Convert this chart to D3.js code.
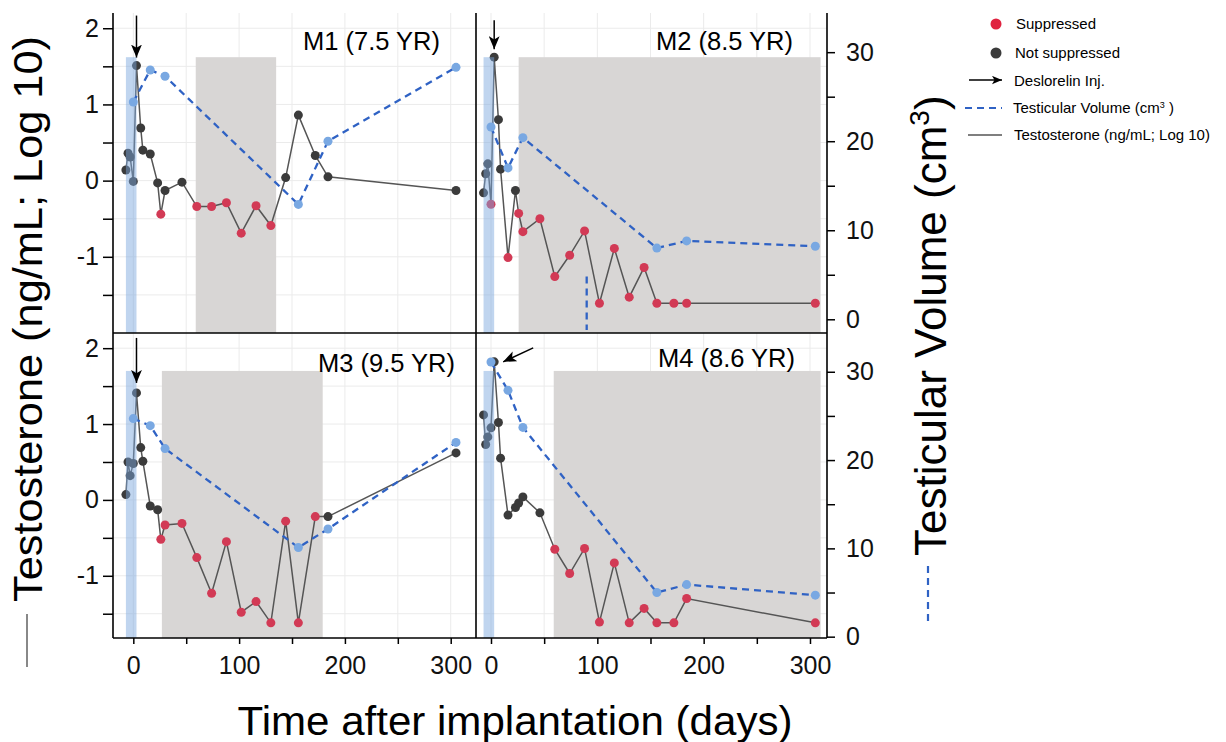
<!DOCTYPE html>
<html>
  <head>
    <title>Testosterone and Testicular Volume</title>
    <script src="https://d3js.org/d3.v7.min.js"></script>
    <style>
      body { margin: 0; background: #fff; }
      text { font-family: "Liberation Sans", Arial, Helvetica, sans-serif; }
    </style>
  </head>
  <body>
    <div id="chart"></div>
    <script>
// Sampling days
const days = [-7, -5, -3, 0, 3, 7, 9, 16, 23, 26, 30, 46, 60, 74, 88, 102, 116, 130, 144, 156, 172, 184, 305];
const volumeDays = [0, 16, 30, 156, 184, 305];

// Testosterone (ng/mL; log10), 1 = suppressed
const m1Testosterone = [0.14, 0.36, 0.31, -0.01, 1.51, 0.69, 0.40, 0.35, -0.03, -0.44, -0.13, -0.02, -0.34, -0.34, -0.29, -0.69, -0.33, -0.59, 0.04, 0.86, 0.33, 0.05, -0.13];
const m1Suppressed = [0, 0, 0, 0, 0, 0, 0, 0, 0, 1, 0, 0, 1, 1, 1, 1, 1, 1, 0, 0, 0, 0, 0];
const m2Testosterone = [-0.16, 0.09, 0.22, -0.31, 1.62, 0.80, 0.15, -1.01, -0.13, -0.43, -0.67, -0.50, -1.26, -0.98, -0.66, -1.61, -0.89, -1.53, -1.14, -1.61, -1.61, -1.61, -1.61];
const m2Suppressed = [0, 0, 0, 1, 0, 0, 0, 1, 0, 1, 1, 1, 1, 1, 1, 1, 1, 1, 1, 1, 1, 1, 1];
const m3Testosterone = [0.07, 0.50, 0.32, 0.48, 1.41, 0.69, 0.51, -0.08, -0.13, -0.52, -0.33, -0.31, -0.76, -1.23, -0.55, -1.48, -1.34, -1.62, -0.28, -1.62, -0.22, -0.22, 0.62];
const m3Suppressed = [0, 0, 0, 0, 0, 0, 0, 0, 0, 1, 1, 1, 1, 1, 1, 1, 1, 1, 1, 1, 1, 0, 0];
const m4Testosterone = [1.12, 0.73, 0.83, 0.95, 1.82, 1.02, 0.55, -0.20, -0.10, -0.04, 0.04, -0.17, -0.65, -0.97, -0.64, -1.61, -0.83, -1.62, -1.43, -1.62, -1.62, -1.30, -1.62];
const m4Suppressed = [0, 0, 0, 0, 0, 0, 0, 0, 0, 0, 0, 0, 1, 1, 1, 1, 1, 1, 1, 1, 1, 1, 1];

// Testicular volume (cm3)
const m1Volume = [24.4, 28.0, 27.3, 12.9, 20.0, 28.3];
const m2Volume = [21.6, 17.0, 20.4, 8.0, 8.8, 8.2];
const m3Volume = [24.7, 23.9, 21.3, 10.1, 12.2, 22.0];
const m4Volume = [31.1, 27.9, 23.7, 5.0, 5.9, 4.7];

// stray dashed volume segment in M2
const m2VolumeMark = { day: 90, from: 4.8, to: -1.2 };

const panelNames = ["M1 (7.5 YR)", "M2 (8.5 YR)", "M3 (9.5 YR)", "M4 (8.6 YR)"];
const implantWindow = [-7, 3];
const suppressionWindows = [[59, 135], [26, 310], [27, 179], [59, 310]];
const shadeTops = [1.62, 1.62, 1.7, 1.7];

// Ticks
const testosteroneTicks = [-1.5, -1, -0.5, 0, 0.5, 1, 1.5, 2];
const volumeTicks = [0, 5, 10, 15, 20, 25, 30];
const dayTicks = [0, 50, 100, 150, 200, 250, 300];

// Layout
const width = 1226;
const height = 742;
const cols = [
  { x0: 113, x1: 476, domain: [-19.2, 323.9] },
  { x0: 476, x1: 827, domain: [-14.1, 316] }
];
const rows = [
  { y0: 13, y1: 333, t: [-2.0, 2.2], v: [-1.54, 34.4] },
  { y0: 333, y1: 638, t: [-1.82, 2.2], v: [-0.15, 34.39] }
];
// panel label right end / baseline
const labelPos = [[440, 50], [793, 50], [455, 372], [795, 367]];

const red = "#d23a55";
const dark = "#3b3b3b";
const volBlue = "#2f62c4";
const volPoint = "#79a8e2";

function createChart() {
  const svg = d3.select("#chart").append("svg")
    .attr("width", width)
    .attr("height", height)
    .attr("viewBox", [0, 0, width, height]);

  const defs = svg.append("defs");
  defs.append("marker")
    .attr("id", "head")
    .attr("viewBox", "0 0 12 10")
    .attr("refX", 12).attr("refY", 5)
    .attr("markerUnits", "userSpaceOnUse")
    .attr("markerWidth", 13).attr("markerHeight", 11)
    .attr("orient", "auto")
    .append("path").attr("d", "M0,0L12,5L0,10L3,5Z").attr("fill", "#000");
  defs.append("marker")
    .attr("id", "headSmall")
    .attr("viewBox", "0 0 12 10")
    .attr("refX", 12).attr("refY", 5)
    .attr("markerUnits", "userSpaceOnUse")
    .attr("markerWidth", 10).attr("markerHeight", 9)
    .attr("orient", "auto")
    .append("path").attr("d", "M0,0L12,5L0,10L3,5Z").attr("fill", "#000");

  const panels = [
    { t: m1Testosterone, s: m1Suppressed, v: m1Volume },
    { t: m2Testosterone, s: m2Suppressed, v: m2Volume },
    { t: m3Testosterone, s: m3Suppressed, v: m3Volume },
    { t: m4Testosterone, s: m4Suppressed, v: m4Volume }
  ];
  // arrow tail / tip offsets from the peak point (pixels)
  const arrowGeom = [
    { tail: [0, -50], tip: [0, -8] },
    { tail: [0, -37], tip: [0, -8] },
    { tail: [0, -55], tip: [0, -10] },
    { tail: [39, -14], tip: [9, 0] }
  ];

  panels.forEach((p, i) => {
    const col = cols[i % 2];
    const row = rows[Math.floor(i / 2)];
    const x = d3.scaleLinear().domain(col.domain).range([col.x0, col.x1]);
    const y = d3.scaleLinear().domain(row.t).range([row.y1, row.y0]);
    const yv = d3.scaleLinear().domain(row.v).range([row.y1, row.y0]);
    const g = svg.append("g");

    // grid
    g.selectAll(".vgrid").data(dayTicks).join("line")
      .attr("x1", d => x(d)).attr("x2", d => x(d))
      .attr("y1", row.y0).attr("y2", row.y1)
      .attr("stroke", "#ebebeb").attr("stroke-width", 1);
    g.selectAll(".hgrid").data(testosteroneTicks.filter(d => d >= row.t[0])).join("line")
      .attr("x1", col.x0).attr("x2", col.x1)
      .attr("y1", d => y(d)).attr("y2", d => y(d))
      .attr("stroke", "#ebebeb").attr("stroke-width", 1);

    // suppression window
    const sw = suppressionWindows[i];
    g.append("rect")
      .attr("x", x(sw[0])).attr("width", x(sw[1]) - x(sw[0]))
      .attr("y", y(shadeTops[i])).attr("height", row.y1 - y(shadeTops[i]))
      .attr("fill", "#d8d6d5");

    // testosterone
    const tData = days.map((d, k) => ({ day: d, val: p.t[k], sup: p.s[k] }));
    g.append("path").datum(tData)
      .attr("fill", "none").attr("stroke", "#555").attr("stroke-width", 1.5)
      .attr("d", d3.line().x(d => x(d.day)).y(d => y(d.val)));
    g.selectAll(".tp").data(tData).join("circle")
      .attr("cx", d => x(d.day)).attr("cy", d => y(d.val)).attr("r", 4.5)
      .attr("fill", d => d.sup ? red : dark);

    // implant window (semi-transparent over early points)
    g.append("rect")
      .attr("x", x(implantWindow[0])).attr("width", x(implantWindow[1]) - x(implantWindow[0]))
      .attr("y", y(shadeTops[i])).attr("height", row.y1 - y(shadeTops[i]))
      .attr("fill", "#7ba7de").attr("opacity", 0.48);

    // volume
    const vData = volumeDays.map((d, k) => ({ day: d, val: p.v[k] }));
    g.append("path").datum(vData)
      .attr("fill", "none").attr("stroke", volBlue).attr("stroke-width", 2.3)
      .attr("stroke-dasharray", "7,5")
      .attr("d", d3.line().x(d => x(d.day)).y(d => yv(d.val)));
    if (i === 1) {
      g.append("line")
        .attr("x1", x(m2VolumeMark.day)).attr("x2", x(m2VolumeMark.day))
        .attr("y1", yv(m2VolumeMark.from)).attr("y2", yv(m2VolumeMark.to))
        .attr("stroke", volBlue).attr("stroke-width", 2.3).attr("stroke-dasharray", "7,5");
    }
    g.selectAll(".vp").data(vData).join("circle")
      .attr("cx", d => x(d.day)).attr("cy", d => yv(d.val)).attr("r", 4.5)
      .attr("fill", volPoint);

    // injection arrow
    const peak = tData[4];
    const px = x(peak.day), py = y(peak.val);
    const a = arrowGeom[i];
    g.append("line")
      .attr("x1", px + a.tail[0]).attr("y1", py + a.tail[1])
      .attr("x2", px + a.tip[0]).attr("y2", py + a.tip[1])
      .attr("stroke", "#000").attr("stroke-width", 1.5)
      .attr("marker-end", "url(#head)");

    // panel label
    g.append("text")
      .attr("x", labelPos[i][0])
      .attr("y", labelPos[i][1])
      .attr("text-anchor", "end")
      .style("font-size", "25.5px")
      .text(panelNames[i]);
  });

  // axes
  rows.forEach(row => {
    const y = d3.scaleLinear().domain(row.t).range([row.y1, row.y0]);
    const yv = d3.scaleLinear().domain(row.v).range([row.y1, row.y0]);
    svg.append("g")
      .attr("transform", `translate(${cols[0].x0},0)`)
      .call(d3.axisLeft(y).tickValues(testosteroneTicks.filter(d => d >= row.t[0]))
        .tickSize(10).tickPadding(4)
        .tickFormat(d => Number.isInteger(d) ? String(d) : ""))
      .call(g => g.select(".domain").remove())
      .call(g => g.selectAll("text").style("font-size", "25px").attr("fill", "#111"))
      .call(g => g.selectAll("line").attr("stroke-width", 1.5));
    svg.append("g")
      .attr("transform", `translate(${cols[1].x1},0)`)
      .call(d3.axisRight(yv).tickValues(volumeTicks)
        .tickSize(8).tickPadding(11)
        .tickFormat(d => d % 10 === 0 ? String(d) : ""))
      .call(g => g.select(".domain").remove())
      .call(g => g.selectAll("text").style("font-size", "25px").attr("fill", "#111"))
      .call(g => g.selectAll("line").attr("stroke-width", 1.5));
  });
  cols.forEach(col => {
    const x = d3.scaleLinear().domain(col.domain).range([col.x0, col.x1]);
    svg.append("g")
      .attr("transform", `translate(0,${rows[1].y1})`)
      .call(d3.axisBottom(x).tickValues(dayTicks)
        .tickSize(6).tickPadding(12)
        .tickFormat(d => d % 100 === 0 ? String(d) : ""))
      .call(g => g.select(".domain").remove())
      .call(g => g.selectAll("text").style("font-size", "25px").attr("fill", "#111"))
      .call(g => g.selectAll("line").attr("stroke-width", 1.5));
  });

  // frame
  const frame = svg.append("g").attr("stroke", "#000").attr("stroke-width", 1.6);
  [cols[0].x0, cols[0].x1, cols[1].x1].forEach(fx => {
    frame.append("line").attr("x1", fx).attr("x2", fx).attr("y1", rows[0].y0).attr("y2", rows[1].y1);
  });
  frame.append("line").attr("x1", cols[0].x0).attr("x2", cols[1].x1).attr("y1", rows[0].y1).attr("y2", rows[0].y1);
  frame.append("line").attr("x1", cols[0].x0).attr("x2", cols[1].x1).attr("y1", rows[1].y1).attr("y2", rows[1].y1);

  // axis titles
  svg.append("text")
    .attr("transform", "translate(42,602) rotate(-90)")
    .style("font-size", "41px")
    .attr("textLength", 566).attr("lengthAdjust", "spacingAndGlyphs")
    .text("Testosterone (ng/mL; Log 10)");
  svg.append("line")
    .attr("x1", 27).attr("x2", 27).attr("y1", 614).attr("y2", 667)
    .attr("stroke", "#888").attr("stroke-width", 2);

  const rt = svg.append("text")
    .attr("transform", "translate(946,556) rotate(-90)")
    .style("font-size", "44px");
  rt.append("tspan").text("Testicular Volume (cm");
  rt.append("tspan").attr("dy", -17).style("font-size", "28px").text("3");
  rt.append("tspan").attr("dy", 17).text(")");
  svg.append("line")
    .attr("x1", 928).attr("x2", 928).attr("y1", 566).attr("y2", 622)
    .attr("stroke", volBlue).attr("stroke-width", 2.2).attr("stroke-dasharray", "7,5");

  svg.append("text")
    .attr("x", 515).attr("y", 735)
    .attr("text-anchor", "middle")
    .style("font-size", "40px")
    .attr("textLength", 555).attr("lengthAdjust", "spacingAndGlyphs")
    .text("Time after implantation (days)");

  // legend
  const lg = svg.append("g").style("font-size", "15px");
  lg.append("circle").attr("cx", 996).attr("cy", 24).attr("r", 5.5).attr("fill", "#e0223f");
  lg.append("text").attr("x", 1016).attr("y", 29).text("Suppressed");
  lg.append("circle").attr("cx", 996).attr("cy", 53).attr("r", 5.5).attr("fill", dark);
  lg.append("text").attr("x", 1015).attr("y", 58).text("Not suppressed");
  lg.append("line").attr("x1", 969).attr("x2", 1002).attr("y1", 80).attr("y2", 80)
    .attr("stroke", "#000").attr("stroke-width", 1.5).attr("marker-end", "url(#headSmall)");
  lg.append("text").attr("x", 1014).attr("y", 86).text("Deslorelin Inj.");
  lg.append("line").attr("x1", 965).attr("x2", 1002).attr("y1", 108).attr("y2", 108)
    .attr("stroke", volBlue).attr("stroke-width", 2).attr("stroke-dasharray", "7,5");
  const lv = lg.append("text").attr("x", 1013).attr("y", 113);
  lv.append("tspan").text("Testicular Volume (cm");
  lv.append("tspan").attr("dy", -5).style("font-size", "9px").text("3");
  lv.append("tspan").attr("dy", 5).text(" )");
  lg.append("line").attr("x1", 968).attr("x2", 1002).attr("y1", 135).attr("y2", 135)
    .attr("stroke", "#555").attr("stroke-width", 1.5);
  lg.append("text").attr("x", 1014).attr("y", 140).text("Testosterone (ng/mL; Log 10)");
}

createChart();
    </script>
  </body>
</html>
